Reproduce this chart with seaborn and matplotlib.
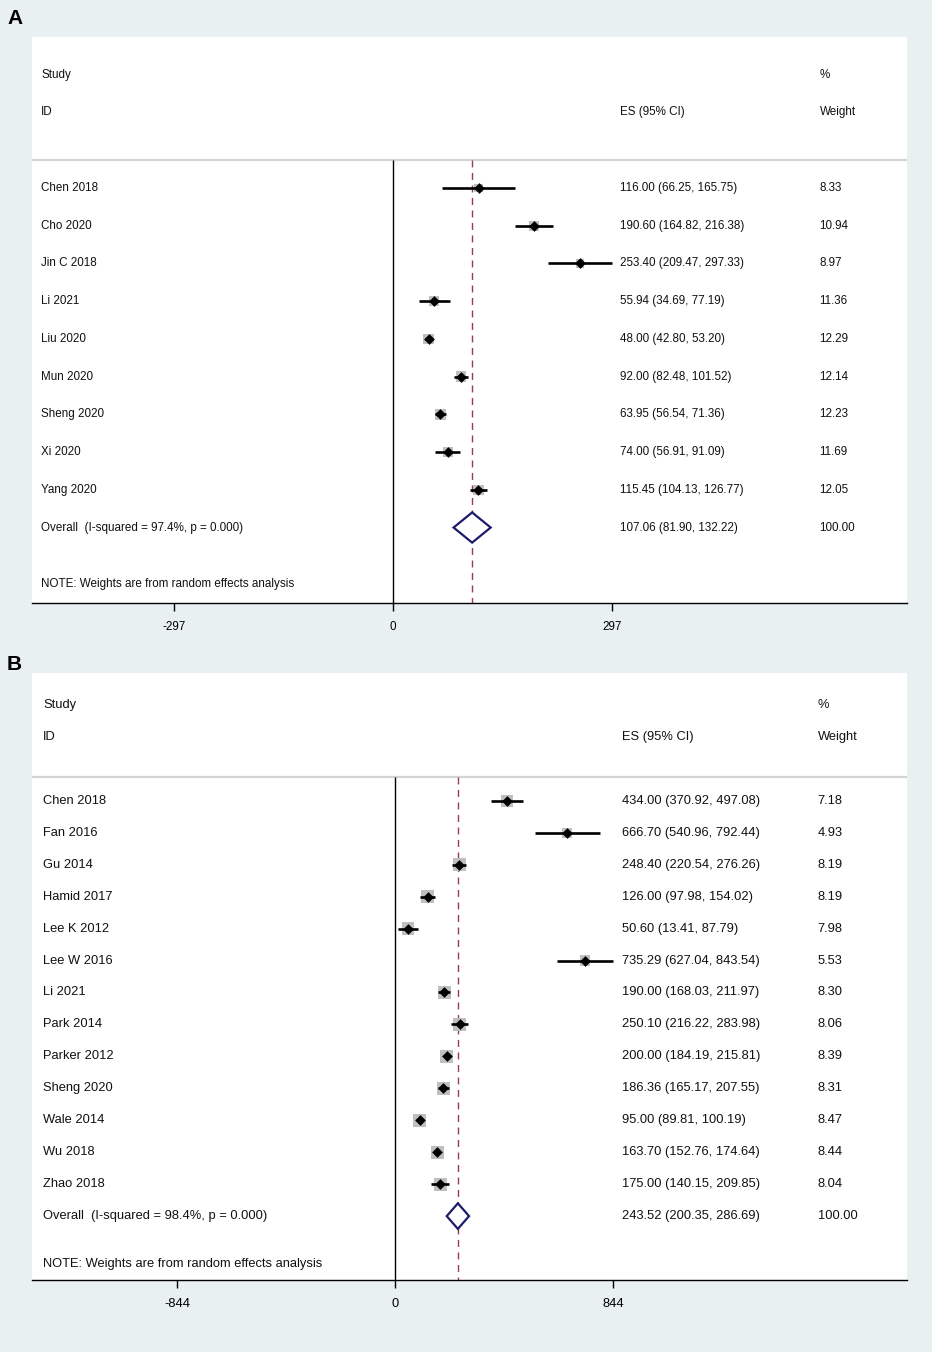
import pandas as pd
import numpy as np
import seaborn as sns
import matplotlib.pyplot as plt

# panel A data
studies_a = ['Chen 2018', 'Cho 2020', 'Jin C 2018', 'Li 2021', 'Liu 2020',
             'Mun 2020', 'Sheng 2020', 'Xi 2020', 'Yang 2020']
es_a = [116.00, 190.60, 253.40, 55.94, 48.00, 92.00, 63.95, 74.00, 115.45]
lo_a = [66.25, 164.82, 209.47, 34.69, 42.80, 82.48, 56.54, 56.91, 104.13]
hi_a = [165.75, 216.38, 297.33, 77.19, 53.20, 101.52, 71.36, 91.09, 126.77]
wt_a = [8.33, 10.94, 8.97, 11.36, 12.29, 12.14, 12.23, 11.69, 12.05]
overall_a = (107.06, 81.90, 132.22)
isq_a = '97.4%'
ticks_a = [-297, 0, 297]

# panel B data
studies_b = ['Chen 2018', 'Fan 2016', 'Gu 2014', 'Hamid 2017', 'Lee K 2012',
             'Lee W 2016', 'Li 2021', 'Park 2014', 'Parker 2012', 'Sheng 2020',
             'Wale 2014', 'Wu 2018', 'Zhao 2018']
es_b = [434.00, 666.70, 248.40, 126.00, 50.60, 735.29, 190.00, 250.10,
        200.00, 186.36, 95.00, 163.70, 175.00]
lo_b = [370.92, 540.96, 220.54, 97.98, 13.41, 627.04, 168.03, 216.22,
        184.19, 165.17, 89.81, 152.76, 140.15]
hi_b = [497.08, 792.44, 276.26, 154.02, 87.79, 843.54, 211.97, 283.98,
        215.81, 207.55, 100.19, 174.64, 209.85]
wt_b = [7.18, 4.93, 8.19, 8.19, 7.98, 5.53, 8.30, 8.06, 8.39, 8.31, 8.47,
        8.44, 8.04]
overall_b = (243.52, 200.35, 286.69)
isq_b = '98.4%'
ticks_b = [-844, 0, 844]

sns.set_style('white')
plt.rcParams['font.family'] = ['Liberation Sans', 'DejaVu Sans']

BG = '#e8f0f2'
W, H = 932, 1352
fig = plt.figure(figsize=(W / 100, H / 100), dpi=100, facecolor=BG)


def panel(top, bottom, xlim, studies, es, lo, hi, wt, overall, isq, ticks,
          fs, box_k, xcols, label, label_y):
    ax = fig.add_axes([32 / W, 1 - bottom / H, (907 - 32) / W, (bottom - top) / H])
    ax.set_facecolor('white')
    n = len(studies)
    df = pd.DataFrame({'study': studies, 'es': es, 'lo': lo, 'hi': hi,
                       'wt': wt, 'row': np.arange(1, n + 1)})
    ymax = n + 3
    sep = 0.26
    ax.set_xlim(*xlim)
    ax.set_ylim(ymax, -3)

    ax.axhline(sep, color='#d4d4d4', lw=1.6, zorder=1)
    ax.vlines(0, sep, ymax, color='black', lw=1.0, zorder=2)
    ax.vlines(overall[0], sep, ymax, color='#9c3a52', lw=1.0,
              linestyles=(0, (5, 4)), zorder=2)

    # weight boxes
    sizes = (box_k * np.sqrt(df['wt']) * 0.72) ** 2
    ax.scatter(df['es'], df['row'], s=sizes, marker='s', color='#bfbfbf',
               linewidths=0, zorder=3)
    ax.hlines(df['row'], df['lo'], df['hi'], color='black', lw=1.9, zorder=4)
    sns.scatterplot(data=df, x='es', y='row', marker='D', s=30, color='black',
                    linewidth=0, ax=ax, zorder=5, legend=False)

    # overall diamond
    oy = n + 1
    hh = 0.4
    ax.fill([overall[1], overall[0], overall[2], overall[0], overall[1]],
            [oy, oy - hh, oy, oy + hh, oy], facecolor='white',
            edgecolor='#1c1c6b', lw=1.6, zorder=5)

    tr = ax.get_yaxis_transform()
    xs, xe, xw = xcols
    kw = dict(transform=tr, va='center', ha='left', fontsize=fs, color='#111111')
    ax.text(xs, -2, 'Study', **kw)
    ax.text(xs, -1, 'ID', **kw)
    ax.text(xe, -1, 'ES (95% CI)', **kw)
    ax.text(xw, -2, '%', **kw)
    ax.text(xw, -1, 'Weight', **kw)
    for r in df.itertuples():
        ax.text(xs, r.row, r.study, **kw)
        ax.text(xe, r.row, f'{r.es:.2f} ({r.lo:.2f}, {r.hi:.2f})', **kw)
        ax.text(xw, r.row, f'{r.wt:.2f}', **kw)
    ax.text(xs, oy, f'Overall  (I-squared = {isq}, p = 0.000)', **kw)
    ax.text(xe, oy, f'{overall[0]:.2f} ({overall[1]:.2f}, {overall[2]:.2f})', **kw)
    ax.text(xw, oy, '100.00', **kw)
    ax.text(xs, n + 2.5, 'NOTE: Weights are from random effects analysis', **kw)

    sns.despine(ax=ax, left=True, top=True, right=True)
    ax.spines['bottom'].set_color('black')
    ax.spines['bottom'].set_linewidth(1.0)
    ax.set_xticks(ticks)
    ax.set_xticklabels([str(t) for t in ticks])
    ax.tick_params(axis='x', direction='out', length=6, width=1, pad=7,
                   labelsize=fs, colors='black', bottom=True)
    ax.set_yticks([])
    ax.set_xlabel('')
    ax.set_ylabel('')
    fig.text(7 / W, 1 - label_y / H, label, fontsize=15, fontweight='bold',
             va='center', ha='left', color='black')


panel(37, 603, (-490, 697), studies_a, es_a, lo_a, hi_a, wt_a, overall_a,
      isq_a, ticks_a, 8.4, 3.0, (0.0103, 0.672, 0.900), 'A', 18)
panel(673, 1280, (-1405, 1982), studies_b, es_b, lo_b, hi_b, wt_b, overall_b,
      isq_b, ticks_b, 9.3, 4.5, (0.0126, 0.674, 0.898), 'B', 664)

fig.savefig('out.png', dpi=100, facecolor=BG)
